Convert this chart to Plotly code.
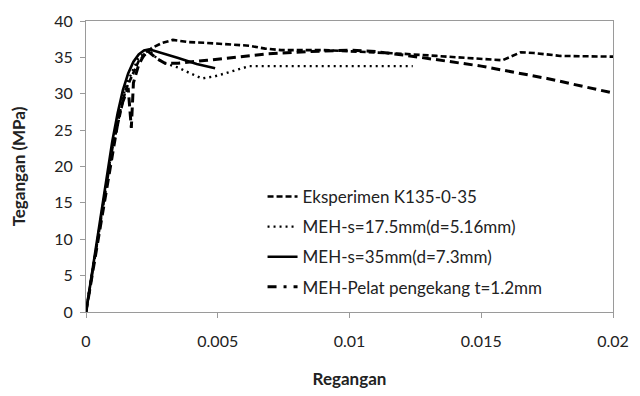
import plotly.graph_objects as go

# Eksperimen K135-0-35
exp_x = [0, 0.0005, 0.001, 0.0015, 0.002, 0.0025, 0.0029, 0.0033, 0.0039, 0.0045, 0.0054,
         0.0062, 0.0068, 0.0074, 0.009, 0.0105, 0.012, 0.0133, 0.0145, 0.0158, 0.0165,
         0.017, 0.018, 0.02]
exp_y = [0, 11.5, 22.5, 30.5, 34.5, 36.3, 37.0, 37.4, 37.1, 37.0, 36.8,
         36.6, 36.2, 36.0, 36.0, 35.8, 35.5, 35.2, 34.9, 34.6, 35.7,
         35.6, 35.2, 35.1]

# MEH-s=17.5mm(d=5.16mm)
s175_x = [0, 0.0005, 0.001, 0.0015, 0.002, 0.0024, 0.0027, 0.003, 0.0035, 0.0039, 0.0044,
          0.0049, 0.0056, 0.0062, 0.008, 0.01, 0.0124]
s175_y = [0, 11.5, 22.8, 31.0, 35.0, 36.0, 34.8, 34.2, 33.6, 32.9, 32.1,
          32.4, 33.2, 33.8, 33.8, 33.8, 33.8]

# MEH-s=35mm(d=7.3mm)
s35_x = [0, 0.0005, 0.001, 0.0012, 0.0014, 0.0016, 0.0018, 0.002, 0.0022, 0.0024, 0.0028,
         0.0035, 0.0042, 0.0049]
s35_y = [0, 12.0, 23.5, 27.3, 30.5, 32.8, 34.4, 35.4, 35.95, 36.1, 35.7,
         34.9, 34.1, 33.5]

# MEH-Pelat pengekang t=1.2mm
pel_x = [0, 0.0005, 0.001, 0.0013, 0.0016, 0.00172, 0.0018, 0.002, 0.0023, 0.0027, 0.003,
         0.0035, 0.0046, 0.0054, 0.0069, 0.0085, 0.01, 0.011, 0.0125, 0.015, 0.0175, 0.02]
pel_y = [0, 11.0, 22.0, 28.0, 30.8, 25.3, 31.5, 34.0, 36.0, 34.8, 34.2,
         34.2, 34.6, 34.9, 35.5, 35.8, 36.0, 35.8, 35.1, 33.8, 32.1, 30.1]

x_ticks = [0, 0.005, 0.01, 0.015, 0.02]
x_tick_labels = ["0", "0.005", "0.01", "0.015", "0.02"]
y_ticks = [0, 5, 10, 15, 20, 25, 30, 35, 40]

FONT = "Lato, 'Open Sans', sans-serif"
fig = go.Figure()

fig.add_trace(go.Scatter(x=exp_x, y=exp_y, mode="lines", name="Eksperimen K135-0-35",
                         legendgroup="a",
                         line=dict(color="black", width=2.6, dash="6px,3px")))
fig.add_trace(go.Scatter(x=s175_x, y=s175_y, mode="lines", name="MEH-s=17.5mm(d=5.16mm)",
                         legendgroup="b",
                         line=dict(color="black", width=2.4, dash="2px,4px")))
fig.add_trace(go.Scatter(x=s35_x, y=s35_y, mode="lines", name="MEH-s=35mm(d=7.3mm)",
                         legendgroup="c",
                         line=dict(color="black", width=2.6)))
fig.add_trace(go.Scatter(x=pel_x, y=pel_y, mode="lines", name="MEH-Pelat pengekang t=1.2mm",
                         legendgroup="d", showlegend=False,
                         line=dict(color="black", width=3, dash="9px,5px")))
fig.add_trace(go.Scatter(x=[None], y=[None], mode="lines", name="MEH-Pelat pengekang t=1.2mm",
                         legendgroup="d",
                         line=dict(color="black", width=3, dash="9px,7px,3px,7px")))

axis_common = dict(showgrid=False, zeroline=False, showline=True, linecolor="#9a9a9a",
                   linewidth=1, mirror=True, ticks="outside", tickcolor="#9a9a9a",
                   ticklen=5, tickfont=dict(family=FONT, size=16, color="#222"))

fig.update_xaxes(range=[0, 0.02], tickvals=x_ticks, ticktext=x_tick_labels,
                 ticklabelstandoff=10,
                 title=dict(text="<b>Regangan</b>", font=dict(family=FONT, size=17, color="#222"),
                            standoff=23),
                 **axis_common)
fig.update_yaxes(range=[0, 40], tickvals=y_ticks, ticklabelstandoff=4,
                 title=dict(text="<b>Tegangan (MPa)</b>", font=dict(family=FONT, size=17, color="#222"),
                            standoff=24),
                 **axis_common)

fig.update_layout(
    width=640, height=396,
    margin=dict(l=86, r=18, t=11, b=81),
    paper_bgcolor="white", plot_bgcolor="white",
    showlegend=True,
    legend=dict(x=0.335, y=0.457, xanchor="left", yanchor="top",
                bgcolor="rgba(0,0,0,0)", traceorder="grouped", tracegroupgap=5,
                font=dict(family=FONT, size=17, color="#222")),
)

fig.write_html("out.html")
